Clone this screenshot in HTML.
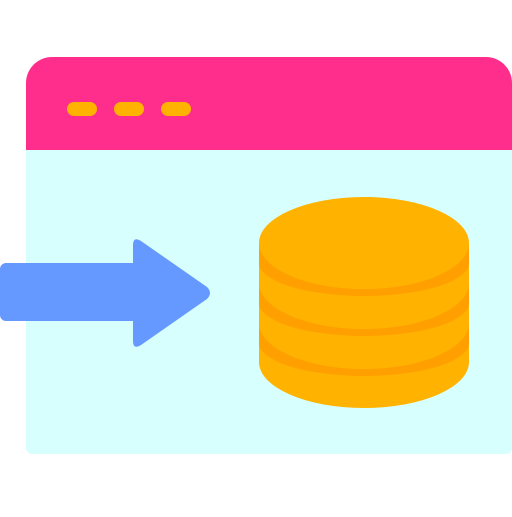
<!DOCTYPE html>
<html><head><style>html,body{margin:0;padding:0;background:#fff}</style></head>
<body>
<svg width="512" height="512" viewBox="0 0 512 512" xmlns="http://www.w3.org/2000/svg">
<path d="M26 150 H512 V448 a6 6 0 0 1 -6 6 H32 a6 6 0 0 1 -6 -6 Z" fill="#d6fffe"/>
<path d="M26 150 V83 a26 26 0 0 1 26 -26 H486 a26 26 0 0 1 26 26 V150 Z" fill="#ff2e8c"/>
<rect x="67" y="102" width="30" height="14" rx="7" fill="#ffb300"/>
<rect x="114" y="102" width="30" height="14" rx="7" fill="#ffb300"/>
<rect x="161" y="102" width="30" height="14" rx="7" fill="#ffb300"/>
<path d="M6 263 H133 V245 Q133 236 141 241 L207 287 Q213 293 207 299 L141 345 Q133 350 133 341 V321 H6 a6 6 0 0 1 -6 -6 V269 a6 6 0 0 1 6 -6 Z" fill="#6699ff"/>
<path d="M259 243 V362 A105 46 0 0 0 469 362 V243 Z" fill="#ffb300"/>
<g fill="#ffa000">
<path d="M259 243 A105 46 0 0 0 469 243 V263 A105 33 0 0 1 259 263 Z"/>
<path d="M259 283 A105 46 0 0 0 469 283 V303 A105 33 0 0 1 259 303 Z"/>
<path d="M259 323 A105 46 0 0 0 469 323 V343 A105 33 0 0 1 259 343 Z"/>
</g>
<ellipse cx="364" cy="243" rx="105" ry="46" fill="#ffb300"/>
</svg>
</body></html>
